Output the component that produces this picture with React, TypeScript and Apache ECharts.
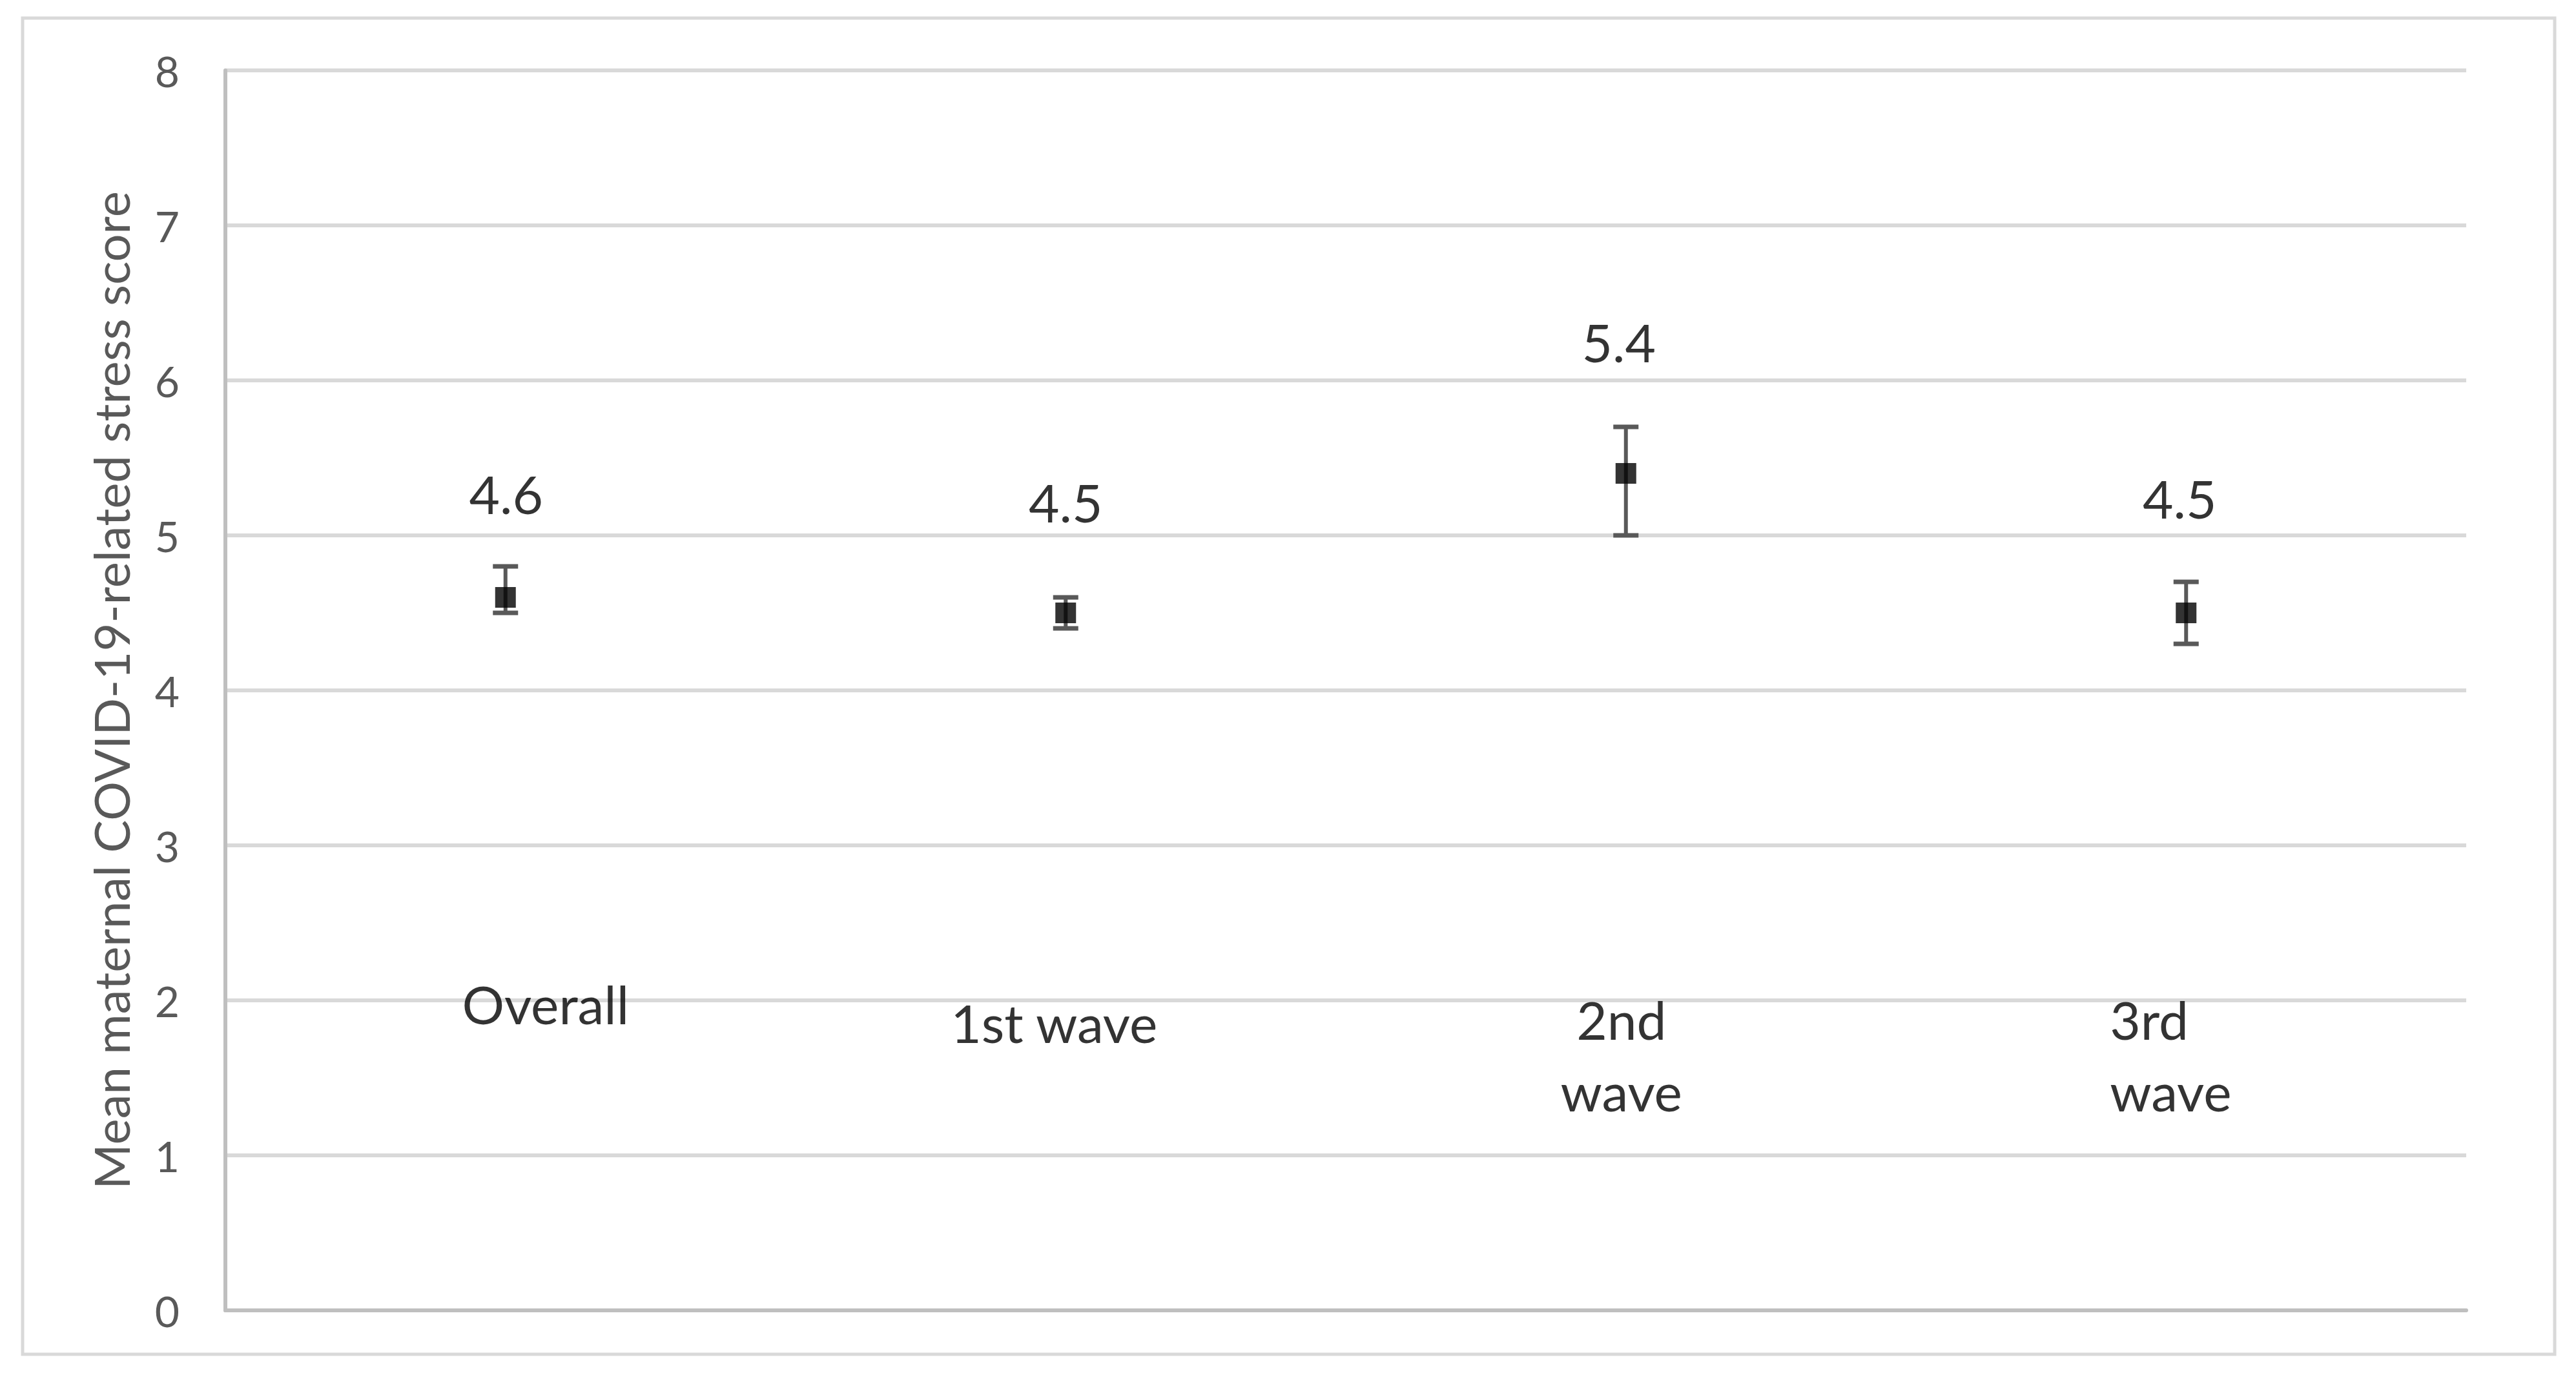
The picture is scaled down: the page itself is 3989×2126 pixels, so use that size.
import React, { useEffect, useRef } from "react";
import * as echarts from "echarts";

// ---- data ----
const categories = ["Overall", "1st wave", "2nd wave", "3rd wave"];
const meanScores = [4.6, 4.5, 5.4, 4.5];
const errorLow = [4.5, 4.4, 5.0, 4.3];
const errorHigh = [4.8, 4.6, 5.7, 4.7];
const yTicks = [0, 1, 2, 3, 4, 5, 6, 7, 8];
const yAxisTitle = "Mean maternal COVID-19-related stress score";

// ---- layout (label placement, px offsets / y in value units) ----
const valueLabelOffsets = [
  [1, -161],
  [0, -172],
  [-11, -204],
  [-10, -178],
];
const categoryLabelY = [1.98, 1.86, 1.65, 1.65];
const categoryLabelDx = [62, -18, -7, -118];
const categoryLabelAlign = ["center", "center", "center", "left"];
const categoryLabelWrap = [false, false, true, true];

const FONT = "Lato";

export default function App() {
  const ref = useRef<HTMLDivElement>(null);

  useEffect(() => {
    if (!ref.current) return;
    const chart = echarts.init(ref.current, undefined, { renderer: "svg" });

    const option: any = {
      animation: false,
      backgroundColor: "#ffffff",
      grid: { left: 349, right: 170, top: 109, bottom: 97, containLabel: false },
      graphic: [
        {
          type: "rect",
          silent: true,
          z: -10,
          shape: { x: 35, y: 28, width: 3921, height: 2069 },
          style: { fill: "none", stroke: "#D9D9D9", lineWidth: 5 },
        },
      ],
      xAxis: {
        type: "category",
        data: categories,
        boundaryGap: true,
        axisLine: { show: true, lineStyle: { color: "#BFBFBF", width: 6 } },
        axisTick: { show: false },
        axisLabel: { show: false },
        splitLine: { show: false },
      },
      yAxis: {
        type: "value",
        min: yTicks[0],
        max: yTicks[yTicks.length - 1],
        interval: yTicks[1] - yTicks[0],
        name: yAxisTitle,
        nameLocation: "middle",
        nameRotate: 90,
        nameGap: 140,
        nameTextStyle: { fontSize: 76, color: "#595959", fontFamily: FONT },
        axisLine: { show: true, lineStyle: { color: "#BFBFBF", width: 6 } },
        axisTick: { show: false },
        axisLabel: { fontSize: 66, color: "#595959", margin: 71, fontFamily: FONT },
        splitLine: { show: true, lineStyle: { color: "#D9D9D9", width: 6 } },
      },
      series: [
        {
          type: "custom",
          name: "error",
          z: 2,
          silent: true,
          encode: { x: 0, y: [1, 2] },
          data: categories.map((_, i) => [i, errorLow[i], errorHigh[i]]),
          renderItem: (_params: any, api: any) => {
            const x = api.value(0);
            const lo = api.coord([x, api.value(1)]);
            const hi = api.coord([x, api.value(2)]);
            const half = 19.5;
            const stroke = "#595959";
            return {
              type: "group",
              children: [
                {
                  type: "line",
                  shape: { x1: lo[0], y1: lo[1], x2: hi[0], y2: hi[1] },
                  style: { stroke, lineWidth: 6 },
                },
                {
                  type: "line",
                  shape: { x1: lo[0] - half, y1: lo[1], x2: lo[0] + half, y2: lo[1] },
                  style: { stroke, lineWidth: 7 },
                },
                {
                  type: "line",
                  shape: { x1: hi[0] - half, y1: hi[1], x2: hi[0] + half, y2: hi[1] },
                  style: { stroke, lineWidth: 7 },
                },
              ],
            };
          },
        },
        {
          type: "scatter",
          name: "mean",
          z: 3,
          silent: true,
          symbol: "rect",
          symbolSize: 32,
          itemStyle: { color: "#000000" },
          data: meanScores.map((v, i) => ({
            value: [i, v],
            label: { offset: valueLabelOffsets[i] },
          })),
          label: {
            show: true,
            position: "inside",
            formatter: (p: any) => Number(p.value[1]).toFixed(1),
            fontSize: 82,
            color: "#000000",
            fontFamily: FONT,
          },
        },
        {
          type: "scatter",
          name: "categoryLabels",
          z: 4,
          silent: true,
          symbol: "circle",
          symbolSize: 1,
          itemStyle: { color: "rgba(0,0,0,0)" },
          data: categories.map((c, i) => ({
            name: c,
            value: [i, categoryLabelY[i]],
            label: {
              align: categoryLabelAlign[i],
              offset: [categoryLabelDx[i], 0],
            },
          })),
          label: {
            show: true,
            position: "inside",
            formatter: (p: any) => {
              const i = p.dataIndex;
              return categoryLabelWrap[i] ? p.name.replace(" ", "\n") : p.name;
            },
            fontSize: 82,
            lineHeight: 111,
            color: "#000000",
            fontFamily: FONT,
          },
        },
      ],
    };

    chart.setOption(option);
    return () => {
      chart.dispose();
    };
  }, []);

  return (
    <div
      ref={ref}
      style={{
        position: "fixed",
        left: 0,
        top: 0,
        width: 3989,
        height: 2126,
        background: "#ffffff",
      }}
    />
  );
}
